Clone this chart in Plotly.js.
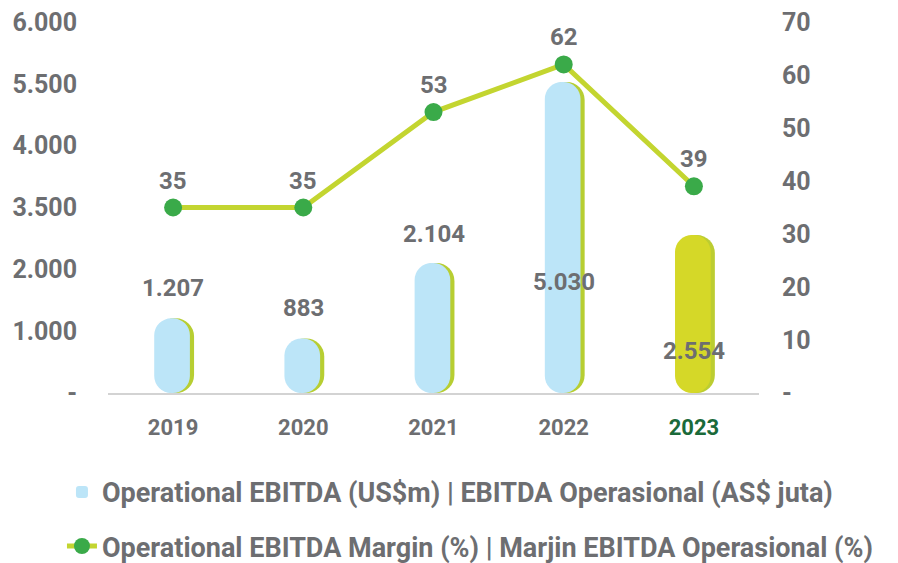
<!DOCTYPE html>
<html>
<head>
<meta charset="utf-8">
<script src="https://cdn.plot.ly/plotly-3.0.1.min.js"></script>
<style>html,body{margin:0;padding:0;background:#fff;}#chart{width:898px;height:563px;}</style>
</head>
<body>
<div id="chart"></div>
<script>
// ---- data ----
var years = ['2019', '2020', '2021', '2022', '2023'];
var ebitda = [1207, 883, 2104, 5030, 2554];
var ebitdaLabels = ['1.207', '883', '2.104', '5.030', '2.554'];
var margin = [35, 35, 53, 62, 39];
var leftTickVals = [0, 1000, 2000, 3000, 4000, 5000, 6000];
var leftTickText = ['-', '1.000', '2.000', '3.500', '4.000', '5.500', '6.000'];
var rightTickVals = [0, 10, 20, 30, 40, 50, 60, 70];
var rightTickText = ['-', '10', '20', '30', '40', '50', '60', '70'];
var xTickText = ['2019', '2020', '2021', '2022', '<span style="color:#1b6a3a">2023</span>'];
var seriesNames = ['Operational EBITDA (US$m) | EBITDA Operasional (AS$ juta)',
                   'Operational EBITDA Margin (%) | Marjin EBITDA Operasional (%)'];

// ---- styles ----
var GREY = '#6d6e71';
var FONT = 'Roboto, "DejaVu Sans", sans-serif';
var barFill = ['#bce5f8', '#bce5f8', '#bce5f8', '#bce5f8', '#d5d828'];
var barShadow = ['#b7ce32', '#b7ce32', '#b7ce32', '#b7ce32', '#bccd31'];
var barLabelShift = [30, 30, 29, -200, -116];
var BW = 0.29, SH = 0.016;

var zeroBase = ebitda.map(function () { return 0; });

function bar(color, w, off, show) {
  return {
    type: 'bar', x: years, y: ebitda, base: zeroBase, yaxis: 'y',
    width: w, offset: off,
    marker: { color: color, line: { width: 0 }, cornerradius: '48%' },
    showlegend: show, name: seriesNames[0], legendgroup: 'a', hoverinfo: 'skip'
  };
}

var traces = [
  bar(barShadow, BW, -BW / 2 + SH, false),
  bar(barFill, BW - SH, -BW / 2, true),
  {
    type: 'scatter', mode: 'lines+markers', x: years, y: margin, yaxis: 'y2',
    name: seriesNames[1], legendgroup: 'b',
    line: { color: '#c3d530', width: 5 },
    marker: { color: '#3aaa49', size: 18 },
    hoverinfo: 'skip'
  }
];

var annotations = [];
years.forEach(function (yr, i) {
  annotations.push({
    x: i, y: ebitda[i], xref: 'x', yref: 'y', text: ebitdaLabels[i],
    showarrow: false, yshift: barLabelShift[i], yanchor: 'middle',
    font: { family: FONT, size: 24, color: GREY, weight: 700 }
  });
  annotations.push({
    x: i, y: margin[i], xref: 'x', yref: 'y2', text: String(margin[i]),
    showarrow: false, yshift: 27, yanchor: 'middle',
    font: { family: FONT, size: 24, color: GREY, weight: 700 }
  });
});

var layout = {
  width: 898, height: 563,
  margin: { l: 108, r: 139, t: 22, b: 170, autoexpand: false },
  paper_bgcolor: '#fff', plot_bgcolor: '#fff',
  barmode: 'overlay',
  font: { family: FONT, color: GREY, weight: 700 },
  xaxis: {
    type: 'category', range: [-0.5, 4.5], automargin: false,
    tickvals: years, ticktext: xTickText, tickangle: 0,
    tickfont: { family: FONT, size: 22, color: GREY, weight: 700 },
    showgrid: false, zeroline: false,
    showline: true, linecolor: '#d3d3d3', linewidth: 2,
    ticks: '', ticklabelstandoff: 14
  },
  yaxis: {
    range: [0, 6000], tickvals: leftTickVals, ticktext: leftTickText, automargin: false,
    tickfont: { family: FONT, size: 25, color: GREY, weight: 700 },
    showgrid: false, zeroline: false, showline: false, ticks: '',
    ticklabelstandoff: 30
  },
  yaxis2: {
    range: [0, 70], overlaying: 'y', side: 'right', automargin: false,
    tickvals: rightTickVals, ticktext: rightTickText,
    tickfont: { family: FONT, size: 25, color: GREY, weight: 700 },
    showgrid: false, zeroline: false, showline: false, ticks: '',
    ticklabelstandoff: 22
  },
  showlegend: true,
  legend: {
    orientation: 'v', xref: 'container', yref: 'container',
    x: 0.069, y: 0.169, xanchor: 'left', yanchor: 'top',
    traceorder: 'grouped', tracegroupgap: 16,
    font: { family: FONT, size: 27, color: GREY, weight: 700 },
    bgcolor: 'rgba(0,0,0,0)', itemwidth: 30
  },
  annotations: annotations
};

Plotly.newPlot('chart', traces, layout, { staticPlot: true, displayModeBar: false });
</script>
</body>
</html>
